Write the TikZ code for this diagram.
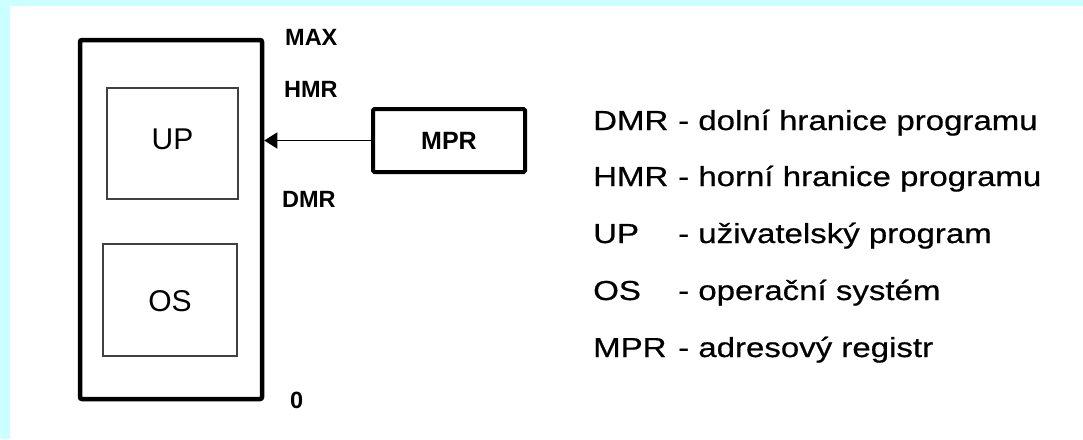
\documentclass[tikz,border=0pt]{standalone}
\usepackage{fontspec}
\setmainfont{Liberation Sans}
\newfontfamily\legendfont[FakeStretch=1.20,FakeBold=0.6]{Liberation Sans}
\usetikzlibrary{arrows.meta}
\definecolor{pagecyan}{HTML}{CCFFFF}
\definecolor{thinline}{HTML}{404040}
\tikzset{
  memory/.style={draw, line width=4.5pt, rounded corners=2pt, minimum width=182pt, minimum height=359pt, inner sep=0pt},
  region/.style={draw=thinline, line width=1.3pt, inner sep=0pt, font=\fontsize{30}{30}\selectfont, text height=22pt, text depth=0pt},
  register/.style={draw, line width=4pt, rounded corners=1.5pt, minimum width=152pt, minimum height=63pt, inner sep=0pt, font=\bfseries\fontsize{25}{25}\selectfont},
  mark label/.style={anchor=base west, inner sep=0pt, font=\bfseries\fontsize{23.5}{23.5}\selectfont},
  legend line/.style={anchor=base west, inner sep=0pt, font=\legendfont\fontsize{27.5}{27.5}\selectfont},
  pointer/.style={line width=1.3pt, -{Triangle[length=13pt, width=16pt]}}
}
\newcommand{\legendkey}[1]{\makebox[85pt][l]{#1}}
\begin{document}
\begin{tikzpicture}[x=1pt, y=-1pt]
  % page background with the cyan strips on the left and top
  \fill[white] (0,0) rectangle (1083,439);
  \fill[pagecyan] (0,0) rectangle (10,439);
  \fill[pagecyan] (0,0) rectangle (1083,6);
  \useasboundingbox (0,0) rectangle (1083,439);

  % memory with its two regions
  \node[memory] (mem) at (171,219.5) {};
  \node[region, minimum width=131pt, minimum height=111pt, text depth=11pt] (up) at (172.5,143.5) {UP};
  \node[region, minimum width=134pt, minimum height=112pt] (os) at (170,300) {OS};

  % boundary marks
  \node[mark label] (max) at (285,45) {MAX};
  \node[mark label] (hmr) at (284,97) {HMR};
  \node[mark label] (dmr) at (282,207) {DMR};
  \node[mark label] (zero) at (290,408) {0};

  % address register pointing into the memory
  \node[register] (mpr) at (449,140.5) {MPR};
  \draw[pointer] (mpr.west) -- (mpr.west -| mem.east);

  % legend
  \node[legend line] (k1) at (593,130) {\legendkey{DMR}- dolní hranice programu};
  \node[legend line] (k2) at (593,186) {\legendkey{HMR}- horní hranice programu};
  \node[legend line] (k3) at (593,243) {\legendkey{UP}- uživatelský program};
  \node[legend line] (k4) at (593,300) {\legendkey{OS}- operační systém};
  \node[legend line] (k5) at (593,357) {\legendkey{MPR}- adresový registr};
\end{tikzpicture}
\end{document}
